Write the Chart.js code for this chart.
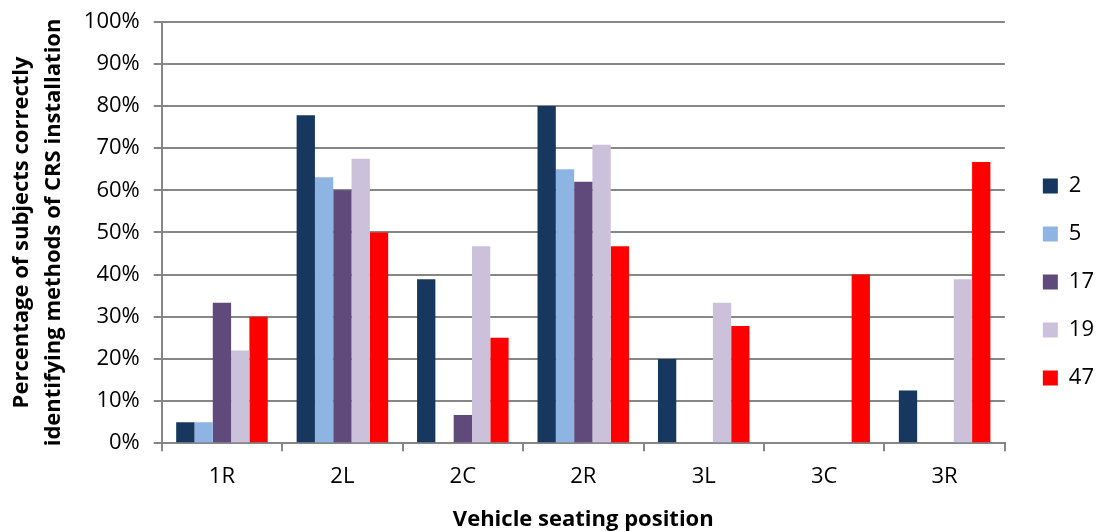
<!DOCTYPE html>
<html>
<head>
<meta charset="utf-8">
<script src="https://cdn.jsdelivr.net/npm/chart.js@4/dist/chart.umd.min.js"></script>
<style>
  html, body { margin: 0; padding: 0; background: #fff; }
  #wrap { width: 1099px; height: 531px; }
</style>
</head>
<body>
<div id="wrap"><canvas id="seatChart"></canvas></div>
<script>
const positions = ["1R", "2L", "2C", "2R", "3L", "3C", "3R"];
const seriesNames = ["2", "5", "17", "19", "47"];
const s2 = [5, 77.8, 38.9, 80, 20, 0, 12.5];
const s5 = [5, 63.1, 0, 65, 0, 0, 0];
const s17 = [33.3, 60, 6.7, 62, 0, 0, 0];
const s19 = [22, 67.5, 46.7, 70.8, 33.3, 0, 38.9];
const s47 = [30, 50, 25, 46.7, 27.8, 40, 66.7];
const colors = ["#17375E", "#8EB4E3", "#604A7B", "#CCC1DA", "#FF0000"];

const font = "Open Sans";
const ctx = document.getElementById("seatChart").getContext("2d");

// nudge the legend a bit away from the plot (Excel-style spacing)
const legendNudge = {
    id: "legendNudge",
    afterLayout(chart) {
        const lg = chart.legend;
        lg.left += 12;
        lg.right += 12;
        lg.top += 15;
        lg.bottom += 15;
    },
};

const chart = new Chart(ctx, {
    type: "bar",
    data: {
        labels: positions,
        datasets: [s2, s5, s17, s19, s47].map((vals, i) => ({
            label: seriesNames[i],
            data: vals,
            backgroundColor: colors[i],
            borderWidth: 0,
            categoryPercentage: 0.76,
            barPercentage: 1.0,
        })),
    },
    options: {
        responsive: true,
        maintainAspectRatio: false,
        animation: false,
        layout: {
            padding: { top: 1, right: 7, bottom: -2, left: 6 },
        },
        plugins: {
            tooltip: { enabled: false },
            legend: {
                position: "right",
                labels: {
                    font: { family: font, size: 22 },
                    color: "#000",
                    boxWidth: 15,
                    boxHeight: 15,
                    padding: 26,
                },
            },
        },
        scales: {
            x: {
                grid: {
                    offset: true,
                    drawOnChartArea: false,
                    color: "#868686",
                    lineWidth: 2,
                    tickLength: 8,
                },
                border: { color: "#868686", width: 2 },
                ticks: {
                    font: { family: font, size: 22 },
                    color: "#000",
                    padding: 12.5,
                },
                title: {
                    display: true,
                    text: "Vehicle seating position",
                    font: { family: font, size: 22, weight: "bold" },
                    color: "#000",
                    padding: { top: 4, bottom: 0 },
                },
            },
            y: {
                min: 0,
                max: 100,
                grid: {
                    color: "#868686",
                    lineWidth: 2,
                    tickLength: 8,
                },
                border: { color: "#868686", width: 2 },
                ticks: {
                    stepSize: 10,
                    font: { family: font, size: 22, lineHeight: 0.7 },
                    color: "#000",
                    padding: 14,
                    callback: (v) => v + "%",
                },
                title: {
                    display: true,
                    text: ["Percentage of subjects correctly", "identifying methods of CRS installation"],
                    font: { family: font, size: 22, weight: "bold", lineHeight: 1.45 },
                    color: "#000",
                    padding: { top: 0, bottom: 0 },
                },
            },
        },
    },
    plugins: [legendNudge],
});
</script>
</body>
</html>
